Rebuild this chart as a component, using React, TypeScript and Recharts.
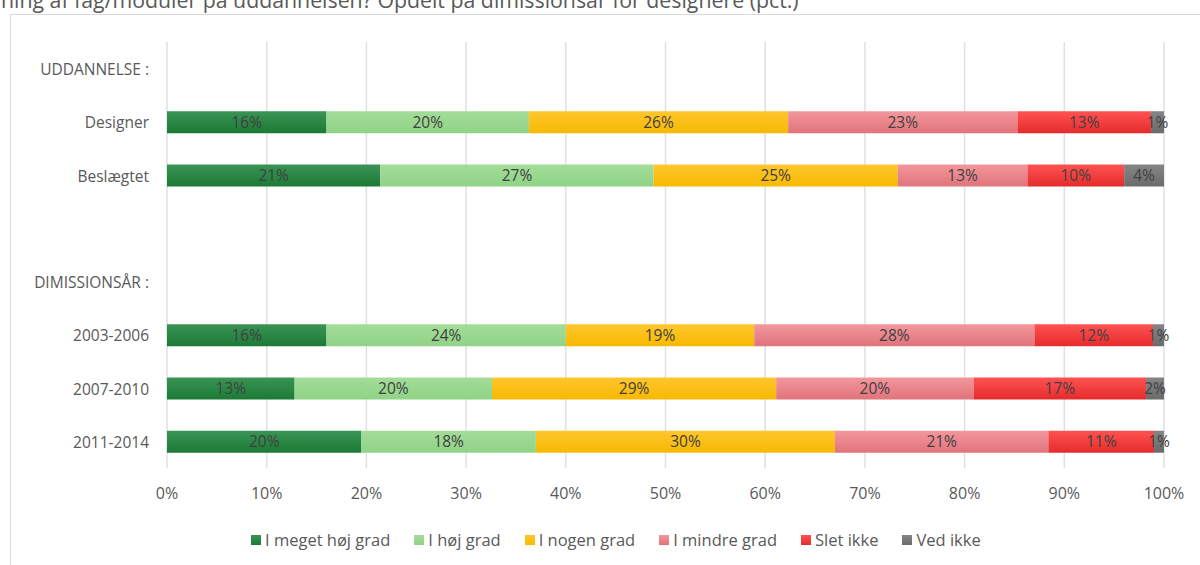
import {
  Bar,
  BarChart,
  CartesianGrid,
  LabelList,
  Legend,
  XAxis,
  YAxis,
} from "recharts";

const categories = [
  "UDDANNELSE :",
  "Designer",
  "Beslægtet",
  " ",
  "DIMISSIONSÅR :",
  "2003-2006",
  "2007-2010",
  "2011-2014",
];

// null = header / spacer rows with no bar
const megetHoej = [null, 16, 21.4, null, null, 16, 12.8, 19.5];
const hoej = [null, 20.3, 27.4, null, null, 24, 19.8, 17.5];
const nogen = [null, 26, 24.5, null, null, 18.9, 28.5, 30];
const mindre = [null, 23, 13, null, null, 28.1, 19.8, 21.4];
const sletIkke = [null, 13.4, 9.7, null, null, 11.9, 17.3, 10.6];
const vedIkke = [null, 1.3, 4, null, null, 1.1, 1.8, 1];

const xTicks = [0, 10, 20, 30, 40, 50, 60, 70, 80, 90, 100];

const series = [
  { key: "meget", name: "I meget høj grad", values: megetHoej, top: "#3a9455", bottom: "#1b7a35" },
  { key: "hoej", name: "I høj grad", values: hoej, top: "#a3dd99", bottom: "#8fd386" },
  { key: "nogen", name: "I nogen grad", values: nogen, top: "#ffc62e", bottom: "#f7b900" },
  { key: "mindre", name: "I mindre grad", values: mindre, top: "#f3979d", bottom: "#e0747b" },
  { key: "slet", name: "Slet ikke", values: sletIkke, top: "#ff5252", bottom: "#e52b2b" },
  { key: "ved", name: "Ved ikke", values: vedIkke, top: "#858585", bottom: "#6b6b6b" },
];

const data = categories.map((c, i) => {
  const row: Record<string, string | number | null> = { cat: c };
  series.forEach((s) => {
    row[s.key] = s.values[i];
  });
  return row;
});

const font = "'Open Sans', 'Liberation Sans', sans-serif";

function LegendBox() {
  return (
    <div
      style={{
        height: 34,
        paddingTop: 16,
        paddingLeft: 251,
        boxSizing: "border-box",
        display: "flex",
        justifyContent: "flex-start",
        gap: 24,
        fontFamily: font,
        fontSize: 16.5,
        lineHeight: "18px",
        color: "#595959",
      }}
    >
      {series.map((s) => (
        <span key={s.key} style={{ display: "flex", alignItems: "center", gap: 4 }}>
          <span style={{ width: 10, height: 10, background: `linear-gradient(${s.top}, ${s.bottom})` }} />
          {s.name}
        </span>
      ))}
    </div>
  );
}

export default function App() {
  return (
    <div
      style={{
        position: "absolute",
        left: 0,
        top: 0,
        width: 1200,
        height: 565,
        overflow: "hidden",
        background: "#fff",
        fontFamily: font,
      }}
    >
      <div
        style={{
          position: "absolute",
          left: 1,
          top: -12,
          fontSize: 21.3,
          lineHeight: "24px",
          color: "#595959",
          whiteSpace: "nowrap",
        }}
      >
        ning af fag/moduler på uddannelsen? Opdelt på dimissionsår for designere (pct.)
      </div>
      <div
        style={{
          position: "absolute",
          left: 10,
          top: 14,
          width: 1200,
          height: 600,
          border: "1px solid #d9d9d9",
        }}
      />
      <BarChart
        width={1200}
        height={565}
        data={data}
        layout="vertical"
        barSize={22}
        margin={{ top: 42, right: 36, bottom: 16, left: 0 }}
        style={{ position: "absolute", left: 0, top: 0 }}
      >
        <defs>
          {series.map((s) => (
            <linearGradient key={s.key} id={"g-" + s.key} x1="0" y1="0" x2="0" y2="1">
              <stop offset="0%" stopColor={s.top} />
              <stop offset="100%" stopColor={s.bottom} />
            </linearGradient>
          ))}
        </defs>
        <CartesianGrid horizontal={false} stroke="#dde1e7" strokeWidth={1.5} />
        <XAxis
          type="number"
          domain={[0, 100]}
          ticks={xTicks}
          tickFormatter={(v: number) => `${v}%`}
          axisLine={false}
          tickLine={false}
          tickMargin={14}
          height={47}
          tick={{ fontSize: 16, fill: "#595959", fontFamily: font }}
        />
        <YAxis
          type="category"
          dataKey="cat"
          width={167}
          axisLine={false}
          tickLine={false}
          tickMargin={12}
          interval={0}
          tick={{ fontSize: 15.5, fill: "#595959", fontFamily: font, dy: 1 }}
        />
        <Legend verticalAlign="bottom" content={() => <LegendBox />} />
        {series.map((s) => (
          <Bar
            key={s.key}
            dataKey={s.key}
            name={s.name}
            stackId="a"
            fill={"url(#g-" + s.key + ")"}
            isAnimationActive={false}
          >
            <LabelList
              dataKey={s.key}
              position="center"
              formatter={(v: number | null) => (v == null ? "" : `${Math.round(v)}%`)}
              style={{ fontSize: 15.5, fill: "#404040", fontFamily: font }}
            />
          </Bar>
        ))}
      </BarChart>
    </div>
  );
}
